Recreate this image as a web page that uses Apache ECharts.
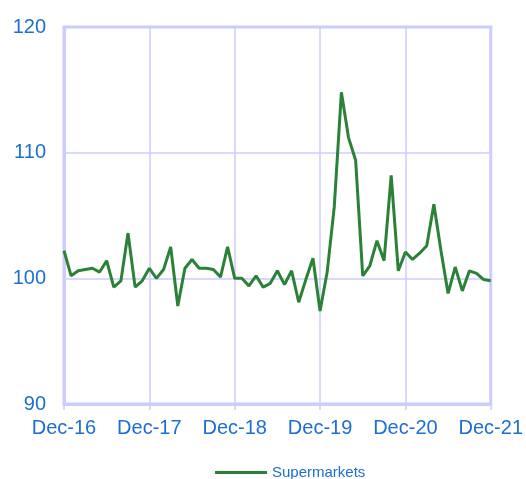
<!DOCTYPE html>
<html>
<head>
<meta charset="utf-8">
<script src="https://cdn.jsdelivr.net/npm/echarts@6/dist/echarts.min.js"></script>
<style>
  html, body { margin: 0; padding: 0; background: #fff; }
  #chart { width: 526px; height: 479px; }
</style>
</head>
<body>
<div id="chart"></div>
<script>
// monthly index, Dec-16 .. Dec-21
const months = [
  'Dec-16', 'Jan-17', 'Feb-17', 'Mar-17', 'Apr-17', 'May-17', 'Jun-17', 'Jul-17', 'Aug-17', 'Sep-17', 'Oct-17', 'Nov-17',
  'Dec-17', 'Jan-18', 'Feb-18', 'Mar-18', 'Apr-18', 'May-18', 'Jun-18', 'Jul-18', 'Aug-18', 'Sep-18', 'Oct-18', 'Nov-18',
  'Dec-18', 'Jan-19', 'Feb-19', 'Mar-19', 'Apr-19', 'May-19', 'Jun-19', 'Jul-19', 'Aug-19', 'Sep-19', 'Oct-19', 'Nov-19',
  'Dec-19', 'Jan-20', 'Feb-20', 'Mar-20', 'Apr-20', 'May-20', 'Jun-20', 'Jul-20', 'Aug-20', 'Sep-20', 'Oct-20', 'Nov-20',
  'Dec-20', 'Jan-21', 'Feb-21', 'Mar-21', 'Apr-21', 'May-21', 'Jun-21', 'Jul-21', 'Aug-21', 'Sep-21', 'Oct-21', 'Nov-21',
  'Dec-21'
]

const supermarkets = [
  102.2, 100.2, 100.6, 100.7, 100.8, 100.5, 101.4, 99.3, 99.8, 103.6, 99.3, 99.8,
  100.8, 100.0, 100.7, 102.5, 97.8, 100.8, 101.5, 100.8, 100.8, 100.7, 100.1, 102.5,
  100.0, 100.0, 99.4, 100.2, 99.3, 99.6, 100.6, 99.5, 100.6, 98.1, 99.9, 101.6,
  97.4, 100.5, 105.7, 114.8, 111.2, 109.4, 100.2, 101.0, 103.0, 101.4, 108.2, 100.6,
  102.1, 101.5, 102.0, 102.6, 105.9, 102.2, 98.8, 100.9, 99.0, 100.6, 100.4, 99.9,
  99.8
]

const gridColor = '#ccccff'
const textColor = '#1c6fd1'

let chart = echarts.init(document.getElementById('chart'), null, { renderer: 'canvas' })

let options = {
  animation: false,
  grid: {
    left: 64,
    right: 35,
    top: 27,
    bottom: 75,
    show: true,
    borderColor: gridColor,
    borderWidth: 3,
  },
  legend: {
    left: 210,
    top: 460,
    icon: 'rect',
    itemWidth: 52,
    itemHeight: 3,
    itemGap: 10,
    textStyle: {
      color: textColor,
      fontSize: 15,
      fontFamily: 'Liberation Sans',
    },
    data: ['Supermarkets'],
  },
  xAxis: {
    type: 'category',
    data: months,
    boundaryGap: false,
    axisLine: { lineStyle: { color: gridColor, width: 3 } },
    axisTick: { show: true, interval: 11, length: 6, lineStyle: { color: gridColor, width: 1.5 } },
    axisLabel: {
      interval: 11,
      color: textColor,
      fontSize: 20,
      fontFamily: 'Liberation Sans',
      margin: 14,
      showMaxLabel: true,
    },
    splitLine: { show: true, interval: 11, lineStyle: { color: gridColor, width: 1.5 } },
  },
  yAxis: {
    type: 'value',
    min: 90,
    max: 120,
    interval: 10,
    axisLine: { show: true, lineStyle: { color: gridColor, width: 3 } },
    axisTick: { show: false },
    axisLabel: {
      color: textColor,
      fontSize: 20,
      fontFamily: 'Liberation Sans',
      margin: 18,
    },
    splitLine: { show: true, lineStyle: { color: gridColor, width: 1.5 } },
  },
  series: [
    {
      name: 'Supermarkets',
      type: 'line',
      data: supermarkets,
      showSymbol: false,
      symbol: 'none',
      itemStyle: { color: '#2b8236' },
      lineStyle: { color: '#2b8236', width: 3 },
    },
  ],
}

chart.setOption(options)
</script>
</body>
</html>
